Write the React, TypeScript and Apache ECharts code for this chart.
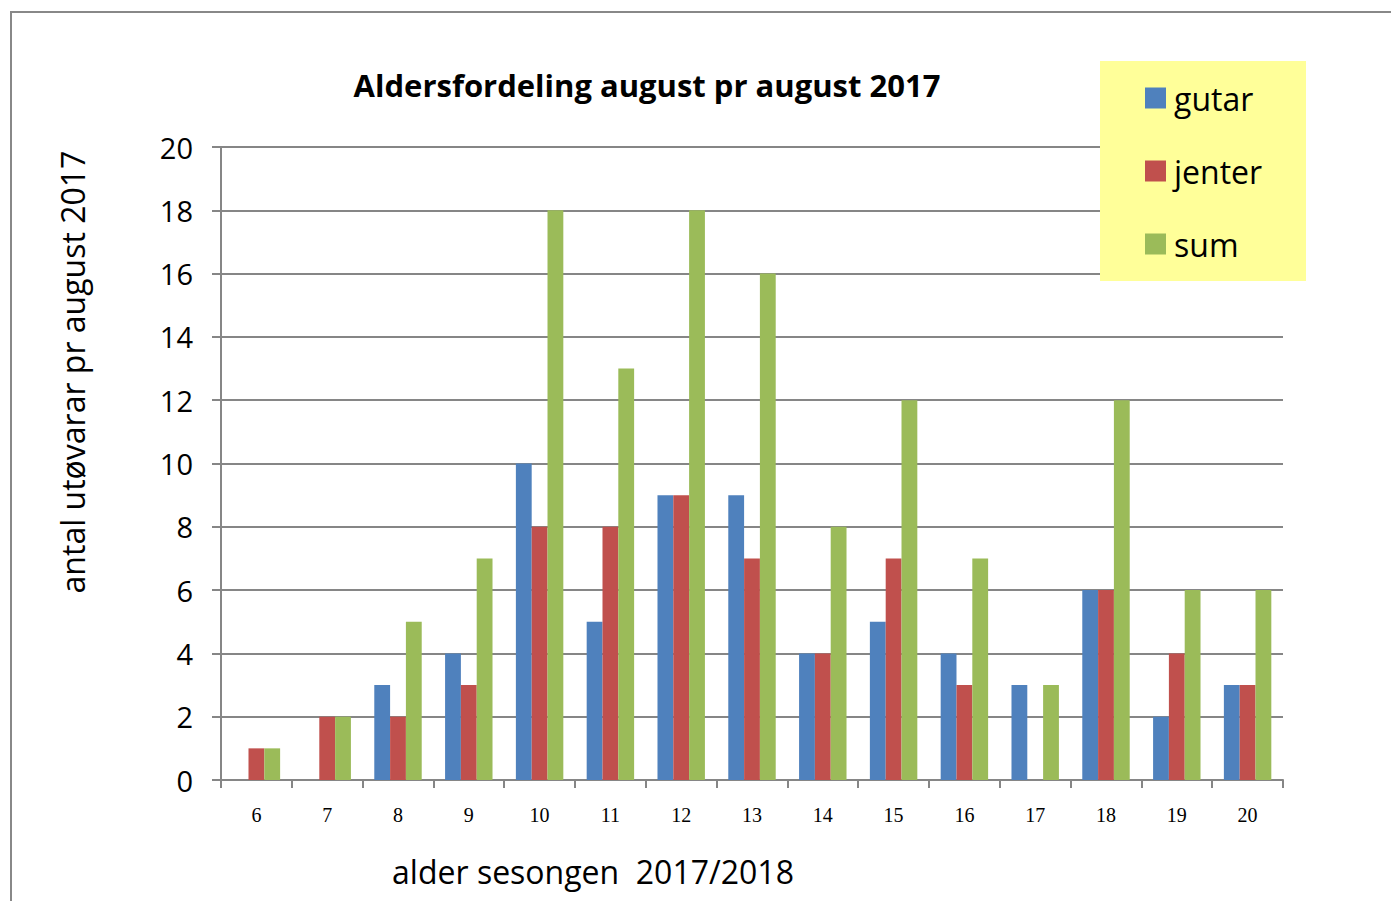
import React, { useEffect, useRef } from "react";
import * as echarts from "echarts";

const ages = ["6", "7", "8", "9", "10", "11", "12", "13", "14", "15", "16", "17", "18", "19", "20"];
const gutar = [0, 0, 3, 4, 10, 5, 9, 9, 4, 5, 4, 3, 6, 2, 3];
const jenter = [1, 2, 2, 3, 8, 8, 9, 7, 4, 7, 3, 0, 6, 4, 3];
const sum = [1, 2, 5, 7, 18, 13, 18, 16, 8, 12, 7, 3, 12, 6, 6];

const titleText = "Aldersfordeling august pr august 2017";
const yName = "antal utøvarar pr august 2017";
const xName = "alder sesongen  2017/2018";

const FONT = "'Open Sans', Lato, sans-serif";

export default function App() {
  const ref = useRef<HTMLDivElement>(null);
  useEffect(() => {
    const chart = echarts.init(ref.current!, null, { renderer: "svg" });
    const gray = "#868686";
    chart.setOption({
      animation: false,
      backgroundColor: "#fff",
      color: ["#4F81BD", "#C0504D", "#9BBB59"],
      grid: { left: 221, right: 108, top: 147, bottom: 121, containLabel: false },
      xAxis: {
        type: "category",
        data: ages,
        axisLine: { lineStyle: { color: gray, width: 2 } },
        axisTick: { show: true, alignWithLabel: false, length: 8, lineStyle: { color: gray, width: 2 } },
        axisLabel: { color: "#000", fontSize: 20, fontFamily: "'Liberation Serif', serif", margin: 25 },
      },
      yAxis: {
        type: "value",
        min: 0,
        max: 20,
        interval: 2,
        axisLine: { show: true, lineStyle: { color: gray, width: 2 } },
        axisTick: { show: true, length: 9, lineStyle: { color: gray, width: 2 } },
        splitLine: { lineStyle: { color: gray, width: 2 } },
        axisLabel: { color: "#000", fontSize: 29, fontFamily: FONT, margin: 28 },
      },
      legend: {
        orient: "vertical",
        left: 1140,
        top: 73,
        itemWidth: 21,
        itemHeight: 21,
        itemGap: 33,
        icon: "rect",
        z: 20,
        textStyle: { fontSize: 32, fontFamily: FONT, color: "#000", padding: [0, 0, 0, 3], lineHeight: 40 },
        data: ["gutar", "jenter", "sum"],
      },
      graphic: [
        {
          type: "rect",
          z: 10,
          shape: { x: 11, y: 12, width: 1400, height: 950 },
          style: { fill: "none", stroke: "#888", lineWidth: 2 },
        },
        {
          type: "rect",
          z: 10,
          shape: { x: 1100, y: 61, width: 206, height: 220 },
          style: { fill: "#FFFF99" },
        },
        {
          type: "text",
          z: 10,
          x: 647,
          y: 85,
          style: {
            text: titleText,
            fontSize: 31,
            fontWeight: "bold",
            fontFamily: FONT,
            fill: "#000",
            align: "center",
            verticalAlign: "middle",
          },
        },
        {
          type: "text",
          z: 10,
          x: 72,
          y: 372,
          rotation: Math.PI / 2,
          style: {
            text: yName,
            fontSize: 32,
            fontFamily: FONT,
            fill: "#000",
            align: "center",
            verticalAlign: "middle",
          },
        },
        {
          type: "text",
          z: 10,
          x: 593,
          y: 871,
          style: {
            text: xName,
            fontSize: 32,
            fontFamily: FONT,
            fill: "#000",
            align: "center",
            verticalAlign: "middle",
          },
        },
      ],
      series: [
        { name: "gutar", type: "bar", data: gutar, barGap: "0%", barCategoryGap: "33%" },
        { name: "jenter", type: "bar", data: jenter, barGap: "0%", barCategoryGap: "33%" },
        { name: "sum", type: "bar", data: sum, barGap: "0%", barCategoryGap: "33%" },
      ],
    });
    return () => chart.dispose();
  }, []);
  return (
    <div
      ref={ref}
      style={{ position: "absolute", left: 0, top: 0, width: 1391, height: 901 }}
    />
  );
}
